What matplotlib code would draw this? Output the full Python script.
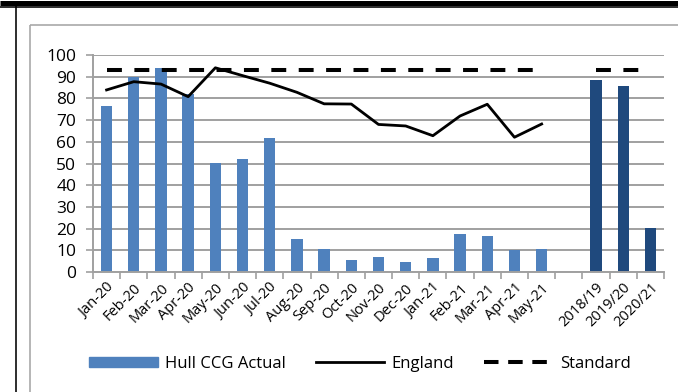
import numpy as np
import matplotlib
matplotlib.use('Agg')
import matplotlib.pyplot as plt
from matplotlib.lines import Line2D
from matplotlib.patches import Patch

# Data
months = ['Jan-20', 'Feb-20', 'Mar-20', 'Apr-20', 'May-20', 'Jun-20', 'Jul-20',
          'Aug-20', 'Sep-20', 'Oct-20', 'Nov-20', 'Dec-20', 'Jan-21', 'Feb-21',
          'Mar-21', 'Apr-21', 'May-21']
years = ['2018/19', '2019/20', '2020/21']
hull_monthly = [76.6, 90.0, 94.0, 82.0, 50.1, 51.9, 61.7, 15.3, 10.6, 5.6, 6.9,
                4.6, 6.6, 17.7, 16.6, 10.1, 10.6]
hull_annual = [88.5, 85.7, 20.3]
england = [83.9, 87.7, 86.6, 80.8, 94.1, 90.5, 87.0, 82.8, 77.5, 77.4, 68.0,
           67.3, 62.8, 71.9, 77.3, 62.1, 68.2]
standard = 93.0

plt.rcParams['font.family'] = ['Open Sans', 'DejaVu Sans']

W, H = 678, 392
fig = plt.figure(figsize=(W / 100, H / 100), dpi=100)

# frame decorations (document table borders)
def hline(y, x0, x1, lw, color):
    fig.add_artist(Line2D([x0 / W, x1 / W], [1 - y / H, 1 - y / H], lw=lw, color=color,
                          transform=fig.transFigure, solid_capstyle='butt'))

def vline(x, y0, y1, lw, color):
    fig.add_artist(Line2D([x / W, x / W], [1 - y0 / H, 1 - y1 / H], lw=lw, color=color,
                          transform=fig.transFigure, solid_capstyle='butt'))

hline(2.5, 0, W, 5 * 0.72, 'black')
hline(6.8, 0, W, 1.6 * 0.72, 'black')
vline(15.6, 6, H, 1.6 * 0.72, 'black')
hline(25, 29.8, W, 1.6 * 0.72, '#a6a6a6')
vline(29.8, 25, H, 1.6 * 0.72, '#a6a6a6')

ax = fig.add_axes([93 / W, 120 / H, (664 - 93) / W, (272 - 55) / H])

labels = months + [''] + years
n = len(labels)
x = np.arange(n)
x_month = x[:len(months)]
x_year = x[len(months) + 1:]

ax.bar(x_month, hull_monthly, width=0.42, color='#4f81bd', zorder=2)
ax.bar(x_year, hull_annual, width=0.42, color='#1f497d', zorder=2)
ax.plot(x_month, england, color='black', lw=2.0, zorder=3)

std = np.array([standard] * len(months) + [np.nan] + [standard] * len(years))
ax.plot(x, std, color='black', lw=2.9, dashes=(3.7, 3.1), zorder=3)

ax.set_xlim(-0.5, n - 0.5)
ax.set_ylim(0, 100)
ax.set_yticks(np.arange(0, 101, 10))
ax.yaxis.grid(True, color='#a0a0a0', lw=1.4, zorder=0)
ax.set_axisbelow(True)

ax.set_xticks(x)
ax.set_xticklabels(labels, rotation=45, ha='right', rotation_mode='anchor', fontsize=10.5)
ax.set_xticks(np.arange(-0.5, n, 1), minor=True)
ax.tick_params(axis='x', which='major', length=0, pad=6)
ax.tick_params(axis='x', which='minor', length=5, color='#a0a0a0', width=1.2)
ax.tick_params(axis='y', length=5, color='#a0a0a0', width=1.2, labelsize=12.5, pad=7)

for s in ['top', 'right']:
    ax.spines[s].set_visible(False)
for s in ['left', 'bottom']:
    ax.spines[s].set_color('#a0a0a0')
    ax.spines[s].set_linewidth(1.4)

handles = [Patch(color='#4f81bd'),
           Line2D([0], [0], color='black', lw=2.0),
           Line2D([0], [0], color='black', lw=2.9, dashes=(3.6, 2.4))]
fig.legend(handles, ['Hull CCG Actual', 'England', 'Standard'], ncol=3,
           loc='center', bbox_to_anchor=(360 / W, 28 / H), frameon=False,
           fontsize=12, handlelength=4.1, handleheight=0.6, columnspacing=1.8,
           handletextpad=0.45)

fig.savefig('out.png', dpi=100)
